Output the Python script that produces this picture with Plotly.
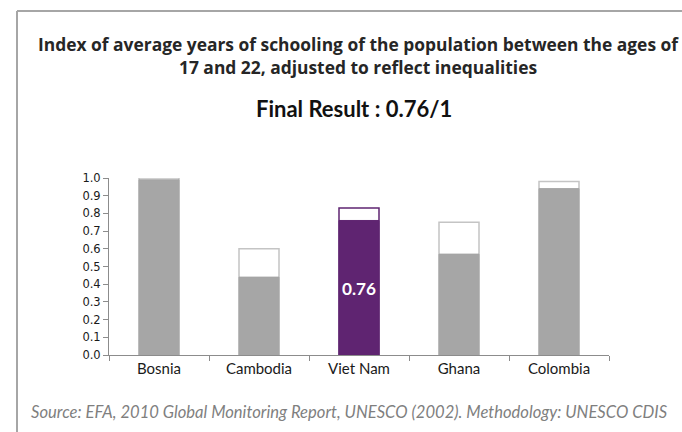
import plotly.graph_objects as go

countries = ["Bosnia", "Cambodia", "Viet Nam", "Ghana", "Colombia"]
unadjusted = [1.00, 0.60, 0.83, 0.75, 0.98]
adjusted = [0.99, 0.44, 0.76, 0.57, 0.94]
highlight = "Viet Nam"
y_ticks = [0.0, 0.1, 0.2, 0.3, 0.4, 0.5, 0.6, 0.7, 0.8, 0.9, 1.0]

GRAY = "#a6a6a6"
PURPLE = "#5f2471"
fill_colors = [PURPLE if c == highlight else GRAY for c in countries]
line_colors = [PURPLE if c == highlight else "#c4c4c4" for c in countries]
labels = ["%.2f" % v if c == highlight else "" for c, v in zip(countries, adjusted)]

fig = go.Figure()
fig.add_trace(go.Bar(
    x=countries, y=unadjusted,
    marker=dict(color="white", line=dict(color=line_colors, width=1.5)),
    hoverinfo="skip", showlegend=False,
))
fig.add_trace(go.Bar(
    x=countries, y=adjusted,
    marker=dict(color=fill_colors, line=dict(color=fill_colors, width=1)),
    text=labels, textposition="inside", insidetextanchor="middle",
    textfont=dict(family="Lato", size=19, color="white", weight="bold"),
    textangle=0, showlegend=False,
))

L, R, T, B = 109, 609, 178, 355
W, H = 682, 432

def px(x):
    return (x - L) / (R - L)

def py(y):
    return (B - y) / (B - T)

fig.update_layout(
    width=W, height=H,
    margin=dict(l=L, r=W - R, t=T, b=H - B),
    paper_bgcolor="white", plot_bgcolor="white",
    barmode="overlay", bargap=0.6,
    font=dict(family="Lato", color="#1a1a1a"),
    xaxis=dict(
        showline=True, linecolor="#8c8c8c", linewidth=1,
        ticks="outside", tickson="boundaries", ticklen=5, tickcolor="#8c8c8c",
        tickfont=dict(family="Lato", size=15, color="#1a1a1a"),
        showgrid=False, zeroline=False, fixedrange=True,
    ),
    yaxis=dict(
        range=[0, 1.0], tickvals=y_ticks, tickformat=".1f",
        showline=True, linecolor="#8c8c8c", linewidth=1,
        ticks="outside", ticklen=5, tickcolor="#8c8c8c",
        tickfont=dict(family="DejaVu Sans", size=11.5, color="#1a1a1a"),
        showgrid=False, zeroline=False, fixedrange=True,
    ),
    shapes=[
        dict(type="line", xref="paper", yref="paper",
             x0=px(17), x1=px(700), y0=py(11), y1=py(11),
             line=dict(color="#a6a6a6", width=2)),
        dict(type="line", xref="paper", yref="paper",
             x0=px(17), x1=px(17), y0=py(11), y1=py(440),
             line=dict(color="#a6a6a6", width=2)),
    ],
    annotations=[
        dict(text="Index of average years of schooling of the population between the ages of<br>17 and 22, adjusted to reflect inequalities",
             xref="paper", yref="paper", x=px(358), y=py(56), xanchor="center", yanchor="middle",
             showarrow=False, font=dict(family="Open Sans", size=17.4, color="#262626", weight="bold"),
             align="center"),
        dict(text="Final Result : 0.76/1",
             xref="paper", yref="paper", x=px(354), y=py(108), xanchor="center", yanchor="middle",
             showarrow=False, font=dict(family="Lato", size=22, color="#111111", weight="bold")),
        dict(text="<i>Source: EFA, 2010 Global Monitoring Report, UNESCO (2002). Methodology: UNESCO CDIS</i>",
             xref="paper", yref="paper", x=px(29), y=py(412), xanchor="left", yanchor="middle",
             showarrow=False, font=dict(family="Lato", size=16.6, color="#7f7f7f")),
    ],
)

fig.write_html("out.html")
